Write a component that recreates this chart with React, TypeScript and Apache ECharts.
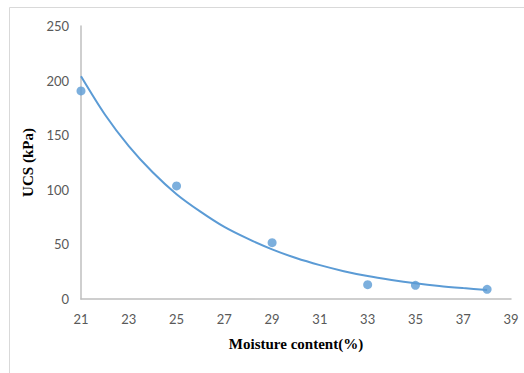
import React, { useEffect, useRef } from "react";
import * as echarts from "echarts";

const moisture = [21, 25, 29, 33, 35, 38];
const ucs = [190.5, 103.5, 51.6, 13.1, 12.5, 8.9];

const trendX = [21, 22, 23, 24, 25, 26, 27, 28, 29, 30, 31, 32, 33, 34, 35, 36, 37, 38];
const trendY = [204, 169, 140, 116, 96, 80, 66, 55, 45.5, 37.5, 31, 25.5, 21, 17.5, 14.5, 12, 10, 8.2];

const xTitle = "Moisture content(%)";
const yTitle = "UCS (kPa)";

export default function App() {
  const ref = useRef<HTMLDivElement>(null);
  useEffect(() => {
    if (!ref.current) return;
    const chart = echarts.init(ref.current, undefined, { renderer: "svg" });
    const color = "#5b9bd5";
    chart.setOption({
      animation: false,
      backgroundColor: "#ffffff",
      graphic: [
        {
          type: "rect",
          shape: { x: 9.5, y: 7.5, width: 600, height: 400 },
          style: { fill: "none", stroke: "#d9d9d9", lineWidth: 1 },
          silent: true,
        },
      ],
      grid: { left: 81, right: 13, top: 26, bottom: 74 },
      xAxis: {
        type: "value",
        min: 21,
        max: 39,
        interval: 2,
        name: xTitle,
        nameLocation: "middle",
        nameGap: 37,
        nameTextStyle: {
          fontFamily: "Liberation Serif",
          fontWeight: "bold",
          fontSize: 15,
          color: "#000000",
        },
        axisLine: { show: true, lineStyle: { color: "#bfbfbf", width: 1.5 } },
        axisTick: { show: false },
        splitLine: { show: false },
        axisLabel: { fontFamily: "Lato", fontSize: 13, color: "#595959", margin: 13 },
      },
      yAxis: {
        type: "value",
        min: 0,
        max: 250,
        interval: 50,
        name: yTitle,
        nameLocation: "middle",
        nameGap: 37,
        nameTextStyle: {
          fontFamily: "Liberation Serif",
          fontWeight: "bold",
          fontSize: 15,
          color: "#000000",
        },
        axisLine: { show: true, lineStyle: { color: "#bfbfbf", width: 1.5 } },
        axisTick: { show: false },
        splitLine: { show: false },
        axisLabel: { fontFamily: "Lato", fontSize: 13, color: "#595959", margin: 12 },
      },
      series: [
        {
          type: "line",
          data: trendX.map((x, i) => [x, trendY[i]]),
          smooth: 0.3,
          showSymbol: false,
          lineStyle: { color, width: 2 },
          z: 2,
        },
        {
          type: "scatter",
          data: moisture.map((x, i) => [x, ucs[i]]),
          symbol: "circle",
          symbolSize: 9,
          itemStyle: { color },
          z: 3,
        },
      ],
    });
    return () => chart.dispose();
  }, []);
  return (
    <div
      ref={ref}
      style={{ position: "fixed", left: 0, top: 0, width: 524, height: 373 }}
    />
  );
}
